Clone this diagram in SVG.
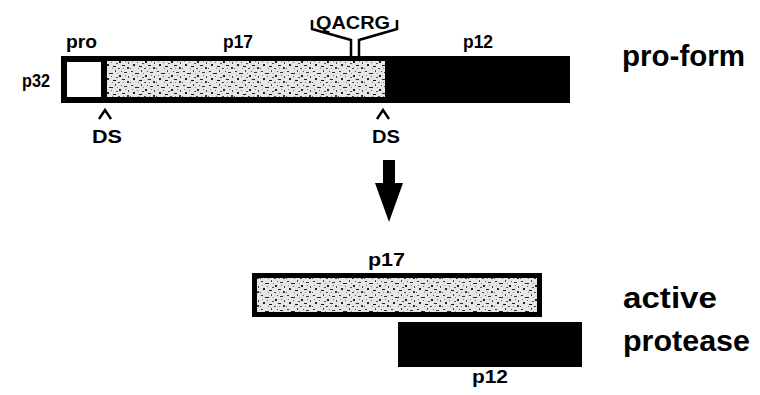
<svg xmlns="http://www.w3.org/2000/svg" width="760" height="395" viewBox="0 0 760 395">
<defs>
<pattern id="speck" width="26" height="14" patternUnits="userSpaceOnUse">
<rect width="26" height="14" fill="#e6e6e6"/>
<rect x="1" y="1" width="2" height="1" fill="#333"/>
<rect x="5" y="3" width="4" height="1" fill="#222"/>
<rect x="11" y="0" width="1" height="2" fill="#444"/>
<rect x="15" y="5" width="2" height="2" fill="#222"/>
<rect x="20" y="2" width="3" height="1" fill="#333"/>
<rect x="3" y="8" width="2" height="2" fill="#222"/>
<rect x="9" y="10" width="3" height="1" fill="#111"/>
<rect x="14" y="12" width="2" height="1" fill="#444"/>
<rect x="18" y="9" width="3" height="1" fill="#222"/>
<rect x="23" y="11" width="2" height="2" fill="#333"/>
<rect x="0" y="12" width="1" height="1" fill="#555"/>
<rect x="12" y="7" width="2" height="1" fill="#555"/>
<rect x="24" y="6" width="1" height="2" fill="#444"/>
<rect x="7" y="6" width="1" height="1" fill="#666"/>
<rect x="17" y="1" width="1" height="1" fill="#555"/>
<rect x="8" y="12" width="1" height="1" fill="#777"/>
<rect x="21" y="5" width="1" height="1" fill="#777"/>
<rect x="2" y="5" width="1" height="1" fill="#888"/>
<rect x="13" y="3" width="1" height="1" fill="#888"/>
<rect x="19" y="12" width="1" height="1" fill="#888"/>
</pattern>
</defs>
<style>
text{font-family:"Liberation Sans",Arial,sans-serif;font-weight:bold;fill:#000}
.lbl{font-size:18px}
.big{font-size:29px}
.ln{fill:none;stroke:#000;stroke-width:2.5}
</style>
<rect width="760" height="395" fill="#fff"/>

<g id="p32">
<rect x="61" y="56" width="509" height="47" fill="#000"/>
<rect x="67" y="62" width="34" height="35" fill="#fff"/>
<rect x="107" y="61" width="278" height="36" fill="url(#speck)"/>
<text class="lbl" x="22" y="87" textLength="28" lengthAdjust="spacingAndGlyphs">p32</text>
<text class="lbl" x="66" y="48" textLength="31" lengthAdjust="spacingAndGlyphs">pro</text>
<text class="lbl" x="223" y="48" textLength="30" lengthAdjust="spacingAndGlyphs">p17</text>
<text class="lbl" x="463" y="48" textLength="30" lengthAdjust="spacingAndGlyphs">p12</text>
<text class="big" x="622" y="66" textLength="123" lengthAdjust="spacingAndGlyphs">pro-form</text>
</g>

<g id="qacrg">
<text class="lbl" x="316" y="29" textLength="74" lengthAdjust="spacingAndGlyphs">QACRG</text>
<path class="ln" d="M312,20 V29 L351,40 V56 M397,20 V29 L359,40 V56"/>
</g>

<g id="ds1">
<path class="ln" d="M99,119 L105,110 L111,119"/>
<text class="lbl" x="92" y="143" textLength="30" lengthAdjust="spacingAndGlyphs">DS</text>
</g>
<g id="ds2">
<path class="ln" d="M377,119 L383,110 L389,119"/>
<text class="lbl" x="372" y="143" textLength="28" lengthAdjust="spacingAndGlyphs">DS</text>
</g>

<g id="connectors">
<path d="M383,160 H395 V183 H403 L389,222 L375,183 H383 Z" fill="#000"/>
</g>

<g id="p17">
<text class="lbl" x="368" y="266" textLength="37" lengthAdjust="spacingAndGlyphs">p17</text>
<rect x="252" y="273" width="290" height="44" fill="#000"/>
<rect x="257" y="278" width="280" height="34" fill="url(#speck)"/>
</g>

<g id="p12">
<rect x="398" y="322" width="184" height="45" fill="#000"/>
<text class="lbl" x="472" y="383" textLength="36" lengthAdjust="spacingAndGlyphs">p12</text>
</g>

<g id="active">
<text class="big" x="623" y="308" textLength="94" lengthAdjust="spacingAndGlyphs">active</text>
<text class="big" x="623" y="351" textLength="127" lengthAdjust="spacingAndGlyphs">protease</text>
</g>
</svg>
